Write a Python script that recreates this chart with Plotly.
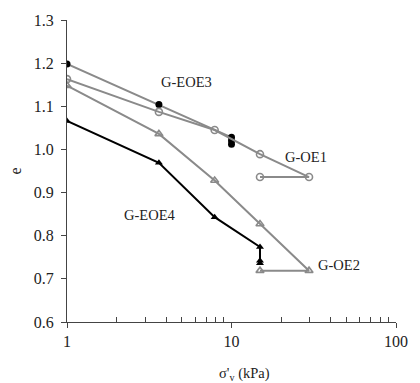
import plotly.graph_objects as go

# G-EOE3 (filled circles, grey line)
eoe3_x = [1, 3.62, 10, 10, 10]
eoe3_e = [1.198, 1.104, 1.028, 1.020, 1.012]
# G-OE1 (open circles)
oe1_x = [1, 3.62, 7.9, 14.9, 29.6, 14.9]
oe1_e = [1.163, 1.087, 1.045, 0.989, 0.936, 0.936]
# G-OE2 (open triangles)
oe2_x = [1, 3.62, 7.9, 14.9, 29.6, 14.9]
oe2_e = [1.148, 1.036, 0.928, 0.827, 0.719, 0.719]
# G-EOE4 (filled triangles, black line)
eoe4_x = [1, 3.62, 7.9, 14.9, 14.9, 14.9]
eoe4_e = [1.066, 0.969, 0.843, 0.774, 0.742, 0.736]

labels = ["G-EOE3", "G-OE1", "G-EOE4", "G-OE2"]
ytick_vals = [0.6, 0.7, 0.8, 0.9, 1.0, 1.1, 1.2, 1.3]
xtick_vals = [1, 10, 100]

GREY = "#8a8a8a"
FONT = "Liberation Serif"

fig = go.Figure()
fig.add_trace(go.Scatter(x=eoe3_x, y=eoe3_e, mode="lines+markers",
                         line=dict(color=GREY, width=2),
                         marker=dict(symbol="circle", size=7, color="black")))
fig.add_trace(go.Scatter(x=oe1_x, y=oe1_e, mode="lines+markers",
                         line=dict(color=GREY, width=2),
                         marker=dict(symbol="circle-open", size=7, color=GREY,
                                     line=dict(width=1.6))))
fig.add_trace(go.Scatter(x=oe2_x, y=oe2_e, mode="lines+markers",
                         line=dict(color=GREY, width=2),
                         marker=dict(symbol="triangle-up-open", size=7, color=GREY,
                                     line=dict(width=1.6))))
fig.add_trace(go.Scatter(x=eoe4_x, y=eoe4_e, mode="lines+markers",
                         line=dict(color="black", width=2),
                         marker=dict(symbol="triangle-up", size=7, color="black")))

ann_pos = [(0.727, 1.156), (1.451, 0.983), (0.503, 0.847), (1.652, 0.732)]
for lab, (ax, ay) in zip(labels, ann_pos):
    fig.add_annotation(x=ax, y=ay, xref="x", yref="y", text=lab, showarrow=False,
                       font=dict(family=FONT, size=14.5, color="#222"))

# x-axis title (sits slightly right of the plot centre in the reference)
fig.add_annotation(x=0.54, y=-0.135, xref="paper", yref="paper",
                   text="σ'<sub>v</sub> (kPa)", showarrow=False,
                   yanchor="top", font=dict(family=FONT, size=14.5, color="#222"))

fig.update_layout(
    width=420, height=383,
    margin=dict(l=67, r=14, t=13, b=61),
    plot_bgcolor="white", paper_bgcolor="white",
    showlegend=False,
    font=dict(family=FONT, size=14, color="#222"),
)
fig.update_xaxes(
    type="log", range=[0, 2],
    tickvals=xtick_vals, ticktext=[str(v) for v in xtick_vals],
    showgrid=False, zeroline=False,
    showline=True, linecolor="#444", linewidth=1,
    ticks="outside", ticklen=5, tickcolor="#444",
    minor=dict(ticks="inside", ticklen=5, tickcolor="#444",
               tickvals=[2, 3, 4, 5, 6, 7, 8, 9, 20, 30, 40, 50, 60, 70, 80, 90],
               showgrid=False),
    tickfont=dict(family=FONT, size=16),
)
fig.update_yaxes(
    range=[0.6, 1.3], tickvals=ytick_vals, tickformat=".1f",
    showgrid=False, zeroline=False,
    showline=True, linecolor="#444", linewidth=1,
    ticks="outside", ticklen=5, tickcolor="#444",
    ticklabelstandoff=4,
    title=dict(text="e", font=dict(family=FONT, size=16), standoff=8),
    tickfont=dict(family=FONT, size=16),
)

fig.write_html("out.html")
